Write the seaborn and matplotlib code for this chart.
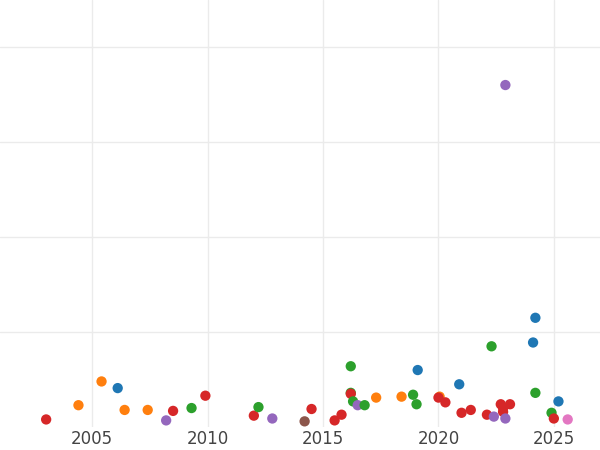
import matplotlib
matplotlib.use("Agg")
import matplotlib.pyplot as plt
import seaborn as sns
import pandas as pd

year = [2003.0, 2004.4, 2005.4, 2006.1, 2006.4, 2007.4, 2008.2, 2008.5, 2009.3, 2009.9,
        2012.0, 2012.2, 2012.8, 2014.2, 2014.5, 2015.5, 2015.8, 2016.2, 2016.2, 2016.2,
        2016.3, 2016.5, 2016.8, 2017.3, 2018.4, 2018.9, 2019.1, 2019.05, 2020.05, 2020.0,
        2020.3, 2020.9, 2021.0, 2021.4, 2022.3, 2022.1, 2022.4, 2022.7, 2022.8, 2022.8,
        2022.9, 2023.1, 2022.9, 2024.2, 2024.1, 2024.2, 2024.9, 2025.0, 2025.2, 2025.6]
value = [0.08, 0.23, 0.48, 0.41, 0.18, 0.18, 0.07, 0.17, 0.20, 0.33,
         0.12, 0.21, 0.09, 0.06, 0.19, 0.07, 0.13, 0.64, 0.36, 0.35,
         0.27, 0.23, 0.23, 0.31, 0.32, 0.34, 0.60, 0.24, 0.32, 0.31,
         0.26, 0.45, 0.15, 0.18, 0.85, 0.13, 0.11, 0.24, 0.16, 0.20,
         0.09, 0.24, 3.60, 1.15, 0.89, 0.36, 0.15, 0.09, 0.27, 0.08]
group = ["red", "orange", "orange", "blue", "orange", "orange", "purple", "red", "green", "red",
         "red", "green", "purple", "brown", "red", "red", "red", "green", "green", "red",
         "green", "purple", "green", "orange", "orange", "green", "blue", "green", "orange", "red",
         "red", "blue", "red", "red", "green", "red", "purple", "red", "red", "red",
         "purple", "red", "purple", "blue", "blue", "green", "green", "red", "blue", "pink"]

palette = {"blue": "#1f77b4", "orange": "#ff7f0e", "green": "#2ca02c", "red": "#d62728",
           "purple": "#9467bd", "brown": "#8c564b", "pink": "#e377c2"}

df = pd.DataFrame({"year": year, "value": value, "group": group})

sns.set_theme(style="whitegrid")
fig = plt.figure(figsize=(6, 4.5), dpi=100)
ax = fig.add_axes([0, 0.051, 1, 0.949])
sns.scatterplot(data=df, x="year", y="value", hue="group", palette=palette,
                s=55, edgecolor="none", legend=False, ax=ax)
ax.set_xlim(2001.0, 2027.0)
ax.set_ylim(0, 4.495)
ax.set_xticks([2005, 2010, 2015, 2020, 2025])
ax.set_yticks([1, 2, 3, 4])
ax.set_yticklabels([])
ax.set_xlabel("")
ax.set_ylabel("")
ax.tick_params(axis="x", labelsize=12, colors="#444444", pad=2, length=0)
ax.tick_params(axis="y", length=0)
for s in ax.spines.values():
    s.set_visible(False)
ax.grid(color="#ebebeb", linewidth=1)
fig.savefig("out.png", dpi=100)
